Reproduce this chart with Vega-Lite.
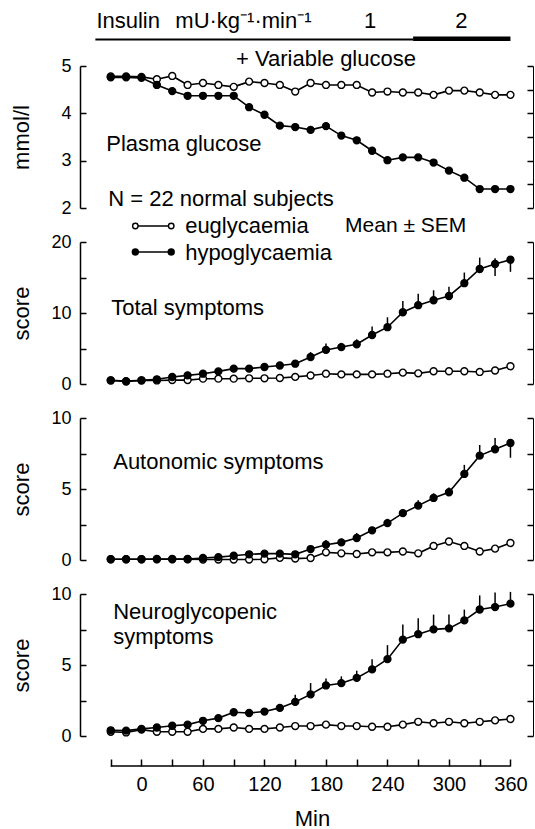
{
  "$schema": "https://vega.github.io/schema/vega-lite/v6.json",
  "padding": {"left": 10, "top": 10, "right": 0, "bottom": 0},
  "background": "white",
  "config": {
    "view": {"stroke": null},
    "font": "Liberation Sans",
    "axis": {"domainColor": "black", "domainWidth": 1.5, "tickColor": "black", "tickWidth": 1.5, "labelColor": "black", "titleColor": "black", "titleFontWeight": "normal", "labelFontSize": 18, "titleFontSize": 22, "grid": false, "labelOverlap": false}
  },
  "datasets": {
    "d": [
      {"p":"g","s":"eu","t":-30,"v":4.78},{"p":"g","s":"eu","t":-15,"v":4.78},{"p":"g","s":"eu","t":0,"v":4.77},{"p":"g","s":"eu","t":15,"v":4.72},{"p":"g","s":"eu","t":30,"v":4.79},{"p":"g","s":"eu","t":45,"v":4.6},{"p":"g","s":"eu","t":60,"v":4.64},{"p":"g","s":"eu","t":75,"v":4.6},{"p":"g","s":"eu","t":90,"v":4.56},{"p":"g","s":"eu","t":105,"v":4.67},{"p":"g","s":"eu","t":120,"v":4.64},{"p":"g","s":"eu","t":135,"v":4.6},{"p":"g","s":"eu","t":150,"v":4.46},{"p":"g","s":"eu","t":165,"v":4.64},{"p":"g","s":"eu","t":180,"v":4.6},{"p":"g","s":"eu","t":195,"v":4.6},{"p":"g","s":"eu","t":210,"v":4.6},{"p":"g","s":"eu","t":225,"v":4.44},{"p":"g","s":"eu","t":240,"v":4.46},{"p":"g","s":"eu","t":255,"v":4.44},{"p":"g","s":"eu","t":270,"v":4.44},{"p":"g","s":"eu","t":285,"v":4.39},{"p":"g","s":"eu","t":300,"v":4.48},{"p":"g","s":"eu","t":315,"v":4.48},{"p":"g","s":"eu","t":330,"v":4.44},{"p":"g","s":"eu","t":345,"v":4.39},{"p":"g","s":"eu","t":360,"v":4.39},
      {"p":"g","s":"hypo","t":-30,"v":4.76},{"p":"g","s":"hypo","t":-15,"v":4.76},{"p":"g","s":"hypo","t":0,"v":4.75},{"p":"g","s":"hypo","t":15,"v":4.6},{"p":"g","s":"hypo","t":30,"v":4.47},{"p":"g","s":"hypo","t":45,"v":4.37},{"p":"g","s":"hypo","t":60,"v":4.37},{"p":"g","s":"hypo","t":75,"v":4.37},{"p":"g","s":"hypo","t":90,"v":4.37},{"p":"g","s":"hypo","t":105,"v":4.13},{"p":"g","s":"hypo","t":120,"v":3.97},{"p":"g","s":"hypo","t":135,"v":3.74},{"p":"g","s":"hypo","t":150,"v":3.71},{"p":"g","s":"hypo","t":165,"v":3.65},{"p":"g","s":"hypo","t":180,"v":3.73},{"p":"g","s":"hypo","t":195,"v":3.53},{"p":"g","s":"hypo","t":210,"v":3.43},{"p":"g","s":"hypo","t":225,"v":3.21},{"p":"g","s":"hypo","t":240,"v":3.01},{"p":"g","s":"hypo","t":255,"v":3.07},{"p":"g","s":"hypo","t":270,"v":3.07},{"p":"g","s":"hypo","t":285,"v":2.96},{"p":"g","s":"hypo","t":300,"v":2.79},{"p":"g","s":"hypo","t":315,"v":2.64},{"p":"g","s":"hypo","t":330,"v":2.4},{"p":"g","s":"hypo","t":345,"v":2.4},{"p":"g","s":"hypo","t":360,"v":2.4},

      {"p":"t","s":"eu","t":-30,"v":0.5},{"p":"t","s":"eu","t":-15,"v":0.35},{"p":"t","s":"eu","t":0,"v":0.5},{"p":"t","s":"eu","t":15,"v":0.5},{"p":"t","s":"eu","t":30,"v":0.55},{"p":"t","s":"eu","t":45,"v":0.55},{"p":"t","s":"eu","t":60,"v":0.75},{"p":"t","s":"eu","t":75,"v":0.75},{"p":"t","s":"eu","t":90,"v":0.75},{"p":"t","s":"eu","t":105,"v":0.8},{"p":"t","s":"eu","t":120,"v":0.8},{"p":"t","s":"eu","t":135,"v":0.85},{"p":"t","s":"eu","t":150,"v":1.0},{"p":"t","s":"eu","t":165,"v":1.2},{"p":"t","s":"eu","t":180,"v":1.45},{"p":"t","s":"eu","t":195,"v":1.35},{"p":"t","s":"eu","t":210,"v":1.35},{"p":"t","s":"eu","t":225,"v":1.35},{"p":"t","s":"eu","t":240,"v":1.45},{"p":"t","s":"eu","t":255,"v":1.6},{"p":"t","s":"eu","t":270,"v":1.5},{"p":"t","s":"eu","t":285,"v":1.8},{"p":"t","s":"eu","t":300,"v":1.8},{"p":"t","s":"eu","t":315,"v":1.8},{"p":"t","s":"eu","t":330,"v":1.7},{"p":"t","s":"eu","t":345,"v":1.9},{"p":"t","s":"eu","t":360,"v":2.5},
      {"p":"t","s":"hypo","t":-30,"v":0.52},{"p":"t","s":"hypo","t":-15,"v":0.4},{"p":"t","s":"hypo","t":0,"v":0.52},{"p":"t","s":"hypo","t":15,"v":0.66},{"p":"t","s":"hypo","t":30,"v":0.99},{"p":"t","s":"hypo","t":45,"v":1.22},{"p":"t","s":"hypo","t":60,"v":1.45},{"p":"t","s":"hypo","t":75,"v":1.78},{"p":"t","s":"hypo","t":90,"v":2.16,"lo":2.16,"hi":2.4},{"p":"t","s":"hypo","t":105,"v":2.16,"lo":2.16,"hi":2.4},{"p":"t","s":"hypo","t":120,"v":2.4,"lo":2.4,"hi":2.7},{"p":"t","s":"hypo","t":135,"v":2.6,"lo":2.6,"hi":2.9},{"p":"t","s":"hypo","t":150,"v":2.86,"lo":2.86,"hi":3.3},{"p":"t","s":"hypo","t":165,"v":3.8,"lo":3.8,"hi":4.5},{"p":"t","s":"hypo","t":180,"v":4.8,"lo":4.8,"hi":5.7},{"p":"t","s":"hypo","t":195,"v":5.2,"lo":5.2,"hi":5.8},{"p":"t","s":"hypo","t":210,"v":5.6,"lo":5.6,"hi":6.3},{"p":"t","s":"hypo","t":225,"v":6.9,"lo":6.9,"hi":8.1},{"p":"t","s":"hypo","t":240,"v":8.0,"lo":8.0,"hi":9.4},{"p":"t","s":"hypo","t":255,"v":10.1,"lo":10.1,"hi":11.7},{"p":"t","s":"hypo","t":270,"v":11.1,"lo":11.1,"hi":12.7},{"p":"t","s":"hypo","t":285,"v":11.8,"lo":11.8,"hi":13.2},{"p":"t","s":"hypo","t":300,"v":12.4,"lo":12.4,"hi":13.7},{"p":"t","s":"hypo","t":315,"v":14.2,"lo":14.2,"hi":15.7},{"p":"t","s":"hypo","t":330,"v":16.2,"lo":16.2,"hi":17.8},{"p":"t","s":"hypo","t":345,"v":16.9,"lo":15.2,"hi":17.7},{"p":"t","s":"hypo","t":360,"v":17.5,"lo":15.8,"hi":17.9},

      {"p":"a","s":"eu","t":-30,"v":0.05},{"p":"a","s":"eu","t":-15,"v":0.05},{"p":"a","s":"eu","t":0,"v":0.05},{"p":"a","s":"eu","t":15,"v":0.05},{"p":"a","s":"eu","t":30,"v":0.05},{"p":"a","s":"eu","t":45,"v":0.05},{"p":"a","s":"eu","t":60,"v":0.03},{"p":"a","s":"eu","t":75,"v":0.03},{"p":"a","s":"eu","t":90,"v":0.03},{"p":"a","s":"eu","t":105,"v":0.03},{"p":"a","s":"eu","t":120,"v":0.05},{"p":"a","s":"eu","t":135,"v":0.15},{"p":"a","s":"eu","t":150,"v":0.1},{"p":"a","s":"eu","t":165,"v":0.14},{"p":"a","s":"eu","t":180,"v":0.54},{"p":"a","s":"eu","t":195,"v":0.47},{"p":"a","s":"eu","t":210,"v":0.42},{"p":"a","s":"eu","t":225,"v":0.54},{"p":"a","s":"eu","t":240,"v":0.54},{"p":"a","s":"eu","t":255,"v":0.6},{"p":"a","s":"eu","t":270,"v":0.47},{"p":"a","s":"eu","t":285,"v":0.99},{"p":"a","s":"eu","t":300,"v":1.3},{"p":"a","s":"eu","t":315,"v":0.99},{"p":"a","s":"eu","t":330,"v":0.6},{"p":"a","s":"eu","t":345,"v":0.8},{"p":"a","s":"eu","t":360,"v":1.2},
      {"p":"a","s":"hypo","t":-30,"v":0.05},{"p":"a","s":"hypo","t":-15,"v":0.05},{"p":"a","s":"hypo","t":0,"v":0.05},{"p":"a","s":"hypo","t":15,"v":0.07},{"p":"a","s":"hypo","t":30,"v":0.07},{"p":"a","s":"hypo","t":45,"v":0.07},{"p":"a","s":"hypo","t":60,"v":0.14},{"p":"a","s":"hypo","t":75,"v":0.2},{"p":"a","s":"hypo","t":90,"v":0.3},{"p":"a","s":"hypo","t":105,"v":0.4},{"p":"a","s":"hypo","t":120,"v":0.45},{"p":"a","s":"hypo","t":135,"v":0.45},{"p":"a","s":"hypo","t":150,"v":0.4},{"p":"a","s":"hypo","t":165,"v":0.77,"lo":0.77,"hi":1.0},{"p":"a","s":"hypo","t":180,"v":1.08,"lo":1.08,"hi":1.4},{"p":"a","s":"hypo","t":195,"v":1.24,"lo":1.24,"hi":1.5},{"p":"a","s":"hypo","t":210,"v":1.55,"lo":1.55,"hi":1.9},{"p":"a","s":"hypo","t":225,"v":2.09,"lo":2.09,"hi":2.3},{"p":"a","s":"hypo","t":240,"v":2.6,"lo":2.6,"hi":2.9},{"p":"a","s":"hypo","t":255,"v":3.3,"lo":3.3,"hi":3.6},{"p":"a","s":"hypo","t":270,"v":3.83,"lo":3.83,"hi":4.2},{"p":"a","s":"hypo","t":285,"v":4.37,"lo":4.37,"hi":4.7},{"p":"a","s":"hypo","t":300,"v":4.77,"lo":4.77,"hi":5.1},{"p":"a","s":"hypo","t":315,"v":6.06,"lo":6.06,"hi":6.7},{"p":"a","s":"hypo","t":330,"v":7.35,"lo":7.35,"hi":8.1},{"p":"a","s":"hypo","t":345,"v":7.8,"lo":7.8,"hi":8.6},{"p":"a","s":"hypo","t":360,"v":8.24,"lo":7.2,"hi":8.24},

      {"p":"n","s":"eu","t":-30,"v":0.3},{"p":"n","s":"eu","t":-15,"v":0.25},{"p":"n","s":"eu","t":0,"v":0.45},{"p":"n","s":"eu","t":15,"v":0.3},{"p":"n","s":"eu","t":30,"v":0.3},{"p":"n","s":"eu","t":45,"v":0.3},{"p":"n","s":"eu","t":60,"v":0.5},{"p":"n","s":"eu","t":75,"v":0.5},{"p":"n","s":"eu","t":90,"v":0.6},{"p":"n","s":"eu","t":105,"v":0.5},{"p":"n","s":"eu","t":120,"v":0.5},{"p":"n","s":"eu","t":135,"v":0.6},{"p":"n","s":"eu","t":150,"v":0.7},{"p":"n","s":"eu","t":165,"v":0.7},{"p":"n","s":"eu","t":180,"v":0.8},{"p":"n","s":"eu","t":195,"v":0.7},{"p":"n","s":"eu","t":210,"v":0.7},{"p":"n","s":"eu","t":225,"v":0.65},{"p":"n","s":"eu","t":240,"v":0.65},{"p":"n","s":"eu","t":255,"v":0.8},{"p":"n","s":"eu","t":270,"v":1.0},{"p":"n","s":"eu","t":285,"v":0.9},{"p":"n","s":"eu","t":300,"v":1.0},{"p":"n","s":"eu","t":315,"v":0.9},{"p":"n","s":"eu","t":330,"v":1.0},{"p":"n","s":"eu","t":345,"v":1.1},{"p":"n","s":"eu","t":360,"v":1.2},
      {"p":"n","s":"hypo","t":-30,"v":0.4},{"p":"n","s":"hypo","t":-15,"v":0.38},{"p":"n","s":"hypo","t":0,"v":0.5},{"p":"n","s":"hypo","t":15,"v":0.6},{"p":"n","s":"hypo","t":30,"v":0.72},{"p":"n","s":"hypo","t":45,"v":0.8},{"p":"n","s":"hypo","t":60,"v":1.07,"lo":1.07,"hi":1.3},{"p":"n","s":"hypo","t":75,"v":1.26},{"p":"n","s":"hypo","t":90,"v":1.67,"lo":1.67,"hi":1.9},{"p":"n","s":"hypo","t":105,"v":1.62},{"p":"n","s":"hypo","t":120,"v":1.72,"lo":1.72,"hi":1.95},{"p":"n","s":"hypo","t":135,"v":1.98,"lo":1.98,"hi":2.25},{"p":"n","s":"hypo","t":150,"v":2.4,"lo":2.4,"hi":2.9},{"p":"n","s":"hypo","t":165,"v":2.93,"lo":2.93,"hi":3.73},{"p":"n","s":"hypo","t":180,"v":3.56,"lo":3.56,"hi":4.05},{"p":"n","s":"hypo","t":195,"v":3.72,"lo":3.72,"hi":4.2},{"p":"n","s":"hypo","t":210,"v":4.09,"lo":4.09,"hi":4.6},{"p":"n","s":"hypo","t":225,"v":4.69,"lo":4.69,"hi":5.4},{"p":"n","s":"hypo","t":240,"v":5.41,"lo":5.41,"hi":6.4},{"p":"n","s":"hypo","t":255,"v":6.79,"lo":6.79,"hi":7.85},{"p":"n","s":"hypo","t":270,"v":7.17,"lo":7.17,"hi":8.3},{"p":"n","s":"hypo","t":285,"v":7.51,"lo":7.51,"hi":8.55},{"p":"n","s":"hypo","t":300,"v":7.58,"lo":7.58,"hi":8.55},{"p":"n","s":"hypo","t":315,"v":8.14,"lo":8.14,"hi":8.9},{"p":"n","s":"hypo","t":330,"v":8.91,"lo":8.91,"hi":9.9},{"p":"n","s":"hypo","t":345,"v":9.08,"lo":9.08,"hi":10.1},{"p":"n","s":"hypo","t":360,"v":9.32,"lo":9.32,"hi":10.15}
    ]
  },
  "data": {"name": "d"},
  "spacing": 34,
  "bounds": "flush",
  "vconcat": [
    {
      "width": 453, "height": 142,
      "layer": [
        {"transform": [{"filter": "datum.p == 'g'"}], "mark": {"type": "line", "color": "black", "strokeWidth": 1.6},
         "encoding": {"x": {"field": "t", "type": "quantitative", "scale": {"domain": [-60, 382], "nice": false, "zero": false}, "axis": null},
                      "y": {"field": "v", "type": "quantitative", "scale": {"domain": [2, 5], "nice": false, "zero": false},
                            "axis": {"orient": "left", "values": [2, 2.5, 3, 3.5, 4, 4.5, 5], "format": "d", "labelExpr": "datum.value % 1 == 0 ? datum.label : ''", "tickSize": -6, "labelPadding": 15, "minExtent": 33, "maxExtent": 33, "titlePadding": 14, "title": "mmol/l"}},
                      "detail": {"field": "s"}}},
        {"transform": [{"filter": "datum.p == 'g'"}], "mark": {"type": "point", "shape": "circle", "filled": true, "size": 48, "stroke": "black", "strokeWidth": 1.4, "opacity": 1},
         "encoding": {"x": {"field": "t", "type": "quantitative", "axis": null},
                      "y": {"field": "v", "type": "quantitative", "axis": {"orient": "right", "values": [2, 2.5, 3, 3.5, 4, 4.5, 5], "labels": false, "tickSize": -6, "title": null, "domainWidth": 1}},
                      "fill": {"field": "s", "type": "nominal", "scale": {"domain": ["eu", "hypo"], "range": ["white", "black"]}, "legend": null}}},
        {"data": {"values": [{}]}, "mark": {"type": "text", "align": "left", "baseline": "middle", "fontSize": 22},
         "encoding": {"x": {"datum": -44, "type": "quantitative", "axis": null}, "y": {"datum": 5.95, "type": "quantitative", "axis": null}, "text": {"value": "Insulin"}}},
        {"data": {"values": [{}]}, "mark": {"type": "text", "align": "left", "baseline": "middle", "fontSize": 22},
         "encoding": {"x": {"datum": 33, "type": "quantitative", "axis": null}, "y": {"datum": 5.95, "type": "quantitative", "axis": null}, "text": {"value": "mU·kg⁻¹·min⁻¹"}}},
        {"data": {"values": [{}]}, "mark": {"type": "text", "align": "center", "baseline": "middle", "fontSize": 22},
         "encoding": {"x": {"datum": 223, "type": "quantitative", "axis": null}, "y": {"datum": 5.95, "type": "quantitative", "axis": null}, "text": {"value": "1"}}},
        {"data": {"values": [{}]}, "mark": {"type": "text", "align": "center", "baseline": "middle", "fontSize": 22},
         "encoding": {"x": {"datum": 312, "type": "quantitative", "axis": null}, "y": {"datum": 5.95, "type": "quantitative", "axis": null}, "text": {"value": "2"}}},
        {"data": {"values": [{}]}, "mark": {"type": "rule", "color": "black", "strokeWidth": 2},
         "encoding": {"x": {"datum": -45, "type": "quantitative", "axis": null}, "x2": {"datum": 265}, "y": {"datum": 5.56, "type": "quantitative", "axis": null}}},
        {"data": {"values": [{}]}, "mark": {"type": "rule", "color": "black", "strokeWidth": 4.5},
         "encoding": {"x": {"datum": 265, "type": "quantitative", "axis": null}, "x2": {"datum": 360}, "y": {"datum": 5.575, "type": "quantitative", "axis": null}}},
        {"data": {"values": [{}]}, "mark": {"type": "text", "align": "center", "baseline": "middle", "fontSize": 22},
         "encoding": {"x": {"datum": 180, "type": "quantitative", "axis": null}, "y": {"datum": 5.15, "type": "quantitative", "axis": null}, "text": {"value": "+ Variable glucose"}}},
        {"data": {"values": [{}]}, "mark": {"type": "text", "align": "left", "baseline": "middle", "fontSize": 22},
         "encoding": {"x": {"datum": -34.4, "type": "quantitative", "axis": null}, "y": {"datum": 3.35, "type": "quantitative", "axis": null}, "text": {"value": "Plasma glucose"}}},
        {"data": {"values": [{}]}, "mark": {"type": "text", "align": "left", "baseline": "middle", "fontSize": 22},
         "encoding": {"x": {"datum": -32.5, "type": "quantitative", "axis": null}, "y": {"datum": 2.19, "type": "quantitative", "axis": null}, "text": {"value": "N = 22 normal subjects"}}}
      ],
      "resolve": {"axis": {"y": "independent"}}
    },
    {
      "width": 453, "height": 142,
      "layer": [
        {"transform": [{"filter": "datum.p == 't'"}], "mark": {"type": "line", "color": "black", "strokeWidth": 1.6},
         "encoding": {"x": {"field": "t", "type": "quantitative", "scale": {"domain": [-60, 382], "nice": false, "zero": false}, "axis": null},
                      "y": {"field": "v", "type": "quantitative", "scale": {"domain": [0, 20], "nice": false, "zero": false},
                            "axis": {"orient": "left", "values": [0, 5, 10, 15, 20], "format": "d", "labelExpr": "datum.value % 10 == 0 ? datum.label : ''", "tickSize": -6, "labelPadding": 15, "minExtent": 33, "maxExtent": 33, "titlePadding": 14, "title": "score"}},
                      "detail": {"field": "s"}}},
        {"transform": [{"filter": "datum.p == 't' && datum.hi != null"}], "mark": {"type": "rule", "color": "black", "strokeWidth": 1.5},
         "encoding": {"x": {"field": "t", "type": "quantitative", "axis": null}, "y": {"field": "lo", "type": "quantitative", "axis": null}, "y2": {"field": "hi"}}},
        {"transform": [{"filter": "datum.p == 't'"}], "mark": {"type": "point", "shape": "circle", "filled": true, "size": 48, "stroke": "black", "strokeWidth": 1.4, "opacity": 1},
         "encoding": {"x": {"field": "t", "type": "quantitative", "axis": null},
                      "y": {"field": "v", "type": "quantitative", "axis": {"orient": "right", "values": [0, 5, 10, 15, 20], "labels": false, "tickSize": -6, "title": null, "domainWidth": 1}},
                      "fill": {"field": "s", "type": "nominal", "scale": {"domain": ["eu", "hypo"], "range": ["white", "black"]}, "legend": null}}},
        {"data": {"values": [{}]}, "mark": {"type": "text", "align": "left", "baseline": "middle", "fontSize": 22},
         "encoding": {"x": {"datum": -29.5, "type": "quantitative", "axis": null}, "y": {"datum": 10.75, "type": "quantitative", "axis": null}, "text": {"value": "Total symptoms"}}},
        {"data": {"values": [{}]}, "mark": {"type": "rule", "color": "black", "strokeWidth": 1.6},
         "encoding": {"x": {"datum": -6, "type": "quantitative", "axis": null}, "x2": {"datum": 29}, "y": {"datum": 22.25, "type": "quantitative", "axis": null}}},
        {"data": {"values": [{}]}, "mark": {"type": "rule", "color": "black", "strokeWidth": 1.6},
         "encoding": {"x": {"datum": -6, "type": "quantitative", "axis": null}, "x2": {"datum": 29}, "y": {"datum": 18.6, "type": "quantitative", "axis": null}}},
        {"data": {"values": [{}]}, "mark": {"type": "point", "shape": "circle", "filled": true, "fill": "white", "size": 30, "stroke": "black", "strokeWidth": 1.4, "opacity": 1},
         "encoding": {"x": {"datum": -6, "type": "quantitative", "axis": null}, "y": {"datum": 22.25, "type": "quantitative", "axis": null}}},
        {"data": {"values": [{}]}, "mark": {"type": "point", "shape": "circle", "filled": true, "fill": "white", "size": 30, "stroke": "black", "strokeWidth": 1.4, "opacity": 1},
         "encoding": {"x": {"datum": 29, "type": "quantitative", "axis": null}, "y": {"datum": 22.25, "type": "quantitative", "axis": null}}},
        {"data": {"values": [{}]}, "mark": {"type": "point", "shape": "circle", "filled": true, "fill": "black", "size": 36, "stroke": "black", "strokeWidth": 1.4, "opacity": 1},
         "encoding": {"x": {"datum": -6, "type": "quantitative", "axis": null}, "y": {"datum": 18.6, "type": "quantitative", "axis": null}}},
        {"data": {"values": [{}]}, "mark": {"type": "point", "shape": "circle", "filled": true, "fill": "black", "size": 36, "stroke": "black", "strokeWidth": 1.4, "opacity": 1},
         "encoding": {"x": {"datum": 29, "type": "quantitative", "axis": null}, "y": {"datum": 18.6, "type": "quantitative", "axis": null}}},
        {"data": {"values": [{}]}, "mark": {"type": "text", "align": "left", "baseline": "middle", "fontSize": 22},
         "encoding": {"x": {"datum": 42.6, "type": "quantitative", "axis": null}, "y": {"datum": 22.25, "type": "quantitative", "axis": null}, "text": {"value": "euglycaemia"}}},
        {"data": {"values": [{}]}, "mark": {"type": "text", "align": "left", "baseline": "middle", "fontSize": 22},
         "encoding": {"x": {"datum": 42.6, "type": "quantitative", "axis": null}, "y": {"datum": 18.45, "type": "quantitative", "axis": null}, "text": {"value": "hypoglycaemia"}}},
        {"data": {"values": [{}]}, "mark": {"type": "text", "align": "left", "baseline": "middle", "fontSize": 21},
         "encoding": {"x": {"datum": 198.6, "type": "quantitative", "axis": null}, "y": {"datum": 22.25, "type": "quantitative", "axis": null}, "text": {"value": "Mean ± SEM"}}}
      ],
      "resolve": {"axis": {"y": "independent"}}
    },
    {
      "width": 453, "height": 142,
      "layer": [
        {"transform": [{"filter": "datum.p == 'a'"}], "mark": {"type": "line", "color": "black", "strokeWidth": 1.6},
         "encoding": {"x": {"field": "t", "type": "quantitative", "scale": {"domain": [-60, 382], "nice": false, "zero": false}, "axis": null},
                      "y": {"field": "v", "type": "quantitative", "scale": {"domain": [0, 10], "nice": false, "zero": false},
                            "axis": {"orient": "left", "values": [0, 2.5, 5, 7.5, 10], "format": "d", "labelExpr": "datum.value % 5 == 0 ? datum.label : ''", "tickSize": -6, "labelPadding": 15, "minExtent": 33, "maxExtent": 33, "titlePadding": 14, "title": "score"}},
                      "detail": {"field": "s"}}},
        {"transform": [{"filter": "datum.p == 'a' && datum.hi != null"}], "mark": {"type": "rule", "color": "black", "strokeWidth": 1.5},
         "encoding": {"x": {"field": "t", "type": "quantitative", "axis": null}, "y": {"field": "lo", "type": "quantitative", "axis": null}, "y2": {"field": "hi"}}},
        {"transform": [{"filter": "datum.p == 'a'"}], "mark": {"type": "point", "shape": "circle", "filled": true, "size": 48, "stroke": "black", "strokeWidth": 1.4, "opacity": 1},
         "encoding": {"x": {"field": "t", "type": "quantitative", "axis": null},
                      "y": {"field": "v", "type": "quantitative", "axis": {"orient": "right", "values": [0, 2.5, 5, 7.5, 10], "labels": false, "tickSize": -6, "title": null, "domainWidth": 1}},
                      "fill": {"field": "s", "type": "nominal", "scale": {"domain": ["eu", "hypo"], "range": ["white", "black"]}, "legend": null}}},
        {"data": {"values": [{}]}, "mark": {"type": "text", "align": "left", "baseline": "middle", "fontSize": 22},
         "encoding": {"x": {"datum": -27.6, "type": "quantitative", "axis": null}, "y": {"datum": 6.9, "type": "quantitative", "axis": null}, "text": {"value": "Autonomic symptoms"}}}
      ],
      "resolve": {"axis": {"y": "independent"}}
    },
    {
      "width": 453, "height": 142,
      "layer": [
        {"transform": [{"filter": "datum.p == 'n'"}], "mark": {"type": "line", "color": "black", "strokeWidth": 1.6},
         "encoding": {"x": {"field": "t", "type": "quantitative", "scale": {"domain": [-60, 382], "nice": false, "zero": false},
                            "axis": {"values": [-30, 0, 30, 60, 90, 120, 150, 180, 210, 240, 270, 300, 330, 360], "format": "d", "labelExpr": "datum.value >= 0 && datum.value % 60 == 0 ? datum.label : ''", "domain": false, "tickSize": -7, "offset": 30, "labelPadding": 15, "labelFontSize": 20, "labelFlush": false, "title": "Min", "titlePadding": 14, "titleX": 232}},
                      "y": {"field": "v", "type": "quantitative", "scale": {"domain": [0, 10], "nice": false, "zero": false},
                            "axis": {"orient": "left", "values": [0, 2.5, 5, 7.5, 10], "format": "d", "labelExpr": "datum.value % 5 == 0 ? datum.label : ''", "tickSize": -6, "labelPadding": 15, "minExtent": 33, "maxExtent": 33, "titlePadding": 14, "title": "score"}},
                      "detail": {"field": "s"}}},
        {"transform": [{"filter": "datum.p == 'n' && datum.hi != null"}], "mark": {"type": "rule", "color": "black", "strokeWidth": 1.5},
         "encoding": {"x": {"field": "t", "type": "quantitative", "axis": null}, "y": {"field": "lo", "type": "quantitative", "axis": null}, "y2": {"field": "hi"}}},
        {"transform": [{"filter": "datum.p == 'n'"}], "mark": {"type": "point", "shape": "circle", "filled": true, "size": 48, "stroke": "black", "strokeWidth": 1.4, "opacity": 1},
         "encoding": {"x": {"field": "t", "type": "quantitative", "axis": null},
                      "y": {"field": "v", "type": "quantitative", "axis": {"orient": "right", "values": [0, 2.5, 5, 7.5, 10], "labels": false, "tickSize": -6, "title": null, "domainWidth": 1}},
                      "fill": {"field": "s", "type": "nominal", "scale": {"domain": ["eu", "hypo"], "range": ["white", "black"]}, "legend": null}}},
        {"data": {"values": [{}]}, "mark": {"type": "rule", "color": "black", "strokeWidth": 1.5},
         "encoding": {"x": {"datum": -30, "type": "quantitative", "axis": null}, "x2": {"datum": 360}, "y": {"datum": -2.11, "type": "quantitative", "axis": null}}},
        {"data": {"values": [{}]}, "mark": {"type": "text", "align": "left", "baseline": "middle", "fontSize": 22},
         "encoding": {"x": {"datum": -27.6, "type": "quantitative", "axis": null}, "y": {"datum": 8.75, "type": "quantitative", "axis": null}, "text": {"value": "Neuroglycopenic"}}},
        {"data": {"values": [{}]}, "mark": {"type": "text", "align": "left", "baseline": "middle", "fontSize": 22},
         "encoding": {"x": {"datum": -27.6, "type": "quantitative", "axis": null}, "y": {"datum": 7.0, "type": "quantitative", "axis": null}, "text": {"value": "symptoms"}}}
      ],
      "resolve": {"axis": {"x": "independent", "y": "independent"}}
    }
  ]
}
